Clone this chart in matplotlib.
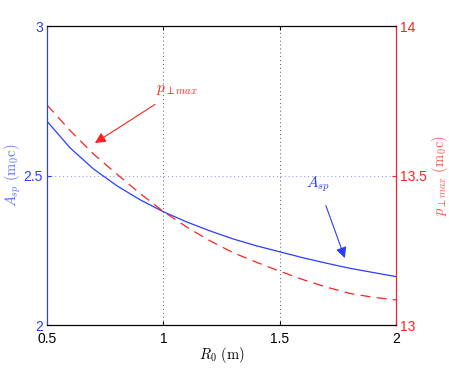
import numpy as np
import matplotlib
matplotlib.use('Agg')
import matplotlib.pyplot as plt

plt.rcParams['mathtext.fontset'] = 'cm'
plt.rcParams['font.family'] = 'Liberation Sans'

# R_0 (m)
r0 = [0.5, 0.6, 0.7, 0.8, 0.9, 1.0, 1.1, 1.2, 1.3, 1.4, 1.5, 1.6, 1.7, 1.8, 1.9, 2.0]
# A_sp (m0 c), left axis
a_sp = [2.682, 2.592, 2.522, 2.466, 2.419, 2.379, 2.345, 2.315, 2.288, 2.265,
        2.245, 2.225, 2.207, 2.190, 2.176, 2.162]
# p_perp,max (m0 c), right axis
p_max = [13.736, 13.65, 13.572, 13.505, 13.44, 13.38, 13.328, 13.282, 13.242, 13.21,
         13.18, 13.152, 13.127, 13.106, 13.093, 13.084]

blue = '#2a3cff'
red = '#ff2020'

fig = plt.figure(figsize=(4.49, 3.68), dpi=100)
ax = fig.add_axes([0.1047, 0.1168, 0.7773, 0.8122])
ax2 = ax.twinx()

ax.plot(r0, a_sp, color=blue, lw=0.9)
ax2.plot(r0, p_max, color=red, lw=0.9, dashes=(8, 5))

ax.set_xlim(0.5, 2)
ax.set_ylim(2, 3)
ax2.set_ylim(13, 14)
ax.set_xticks([0.5, 1, 1.5, 2])
ax.set_xticklabels(['0.5', '1', '1.5', '2'])
ax.set_yticks([2, 2.5, 3])
ax.set_yticklabels(['2', '2.5', '3'])
ax2.set_yticks([13, 13.5, 14])
ax2.set_yticklabels(['13', '13.5', '14'])

# grid
for xv in [1, 1.5]:
    ax.axvline(xv, color='#555555', lw=0.7, ls=(0, (1, 3)), zorder=0)
ax.axhline(2.5, color='#8090ff', lw=0.7, ls=(0, (1, 3)), zorder=0)

ax.tick_params(axis='both', direction='in', labelsize=10, length=3)
ax.tick_params(axis='y', colors=blue, labelcolor=blue, pad=3)
ax.tick_params(axis='x', top=True, colors='black', pad=5)
ax2.tick_params(axis='y', direction='in', colors=red, labelcolor=red, labelsize=10, length=3, pad=3)

ax.spines['left'].set_color(blue)
ax2.spines['left'].set_color(blue)
ax2.spines['right'].set_color(red)
for sp in ax.spines.values():
    sp.set_linewidth(0.8)
for sp in ax2.spines.values():
    sp.set_linewidth(0.8)

ax.set_xlabel(r'$R_0\ \mathrm{(m)}$', fontsize=10.5)
ax.xaxis.set_label_coords(0.5, -0.068)
ax.set_ylabel(r'$A_{sp}\ \mathrm{(m_0c)}$', fontsize=10.5, color='#6070ff')
ax.yaxis.set_label_coords(-0.07, 0.5)
ax2.set_ylabel(r'$p_{\perp max}\ \mathrm{(m_0c)}$', fontsize=10.5, color='#ff5050')
ax2.yaxis.set_label_coords(1.097, 0.5)

ax.annotate(r'$p_{\perp max}$', xy=(0.706, 2.609), xytext=(1.06, 2.786),
            color=red, fontsize=11, ha='center', va='center',
            arrowprops=dict(arrowstyle='-|>', color=red, lw=0.8, mutation_scale=16,
                            shrinkA=6, shrinkB=0))
ax.annotate(r'$A_{sp}$', xy=(1.78, 2.224), xytext=(1.665, 2.472),
            color=blue, fontsize=11, ha='center', va='center',
            arrowprops=dict(arrowstyle='-|>', color=blue, lw=0.8, mutation_scale=16,
                            shrinkA=7, shrinkB=0))

fig.savefig('out.png', dpi=100)
